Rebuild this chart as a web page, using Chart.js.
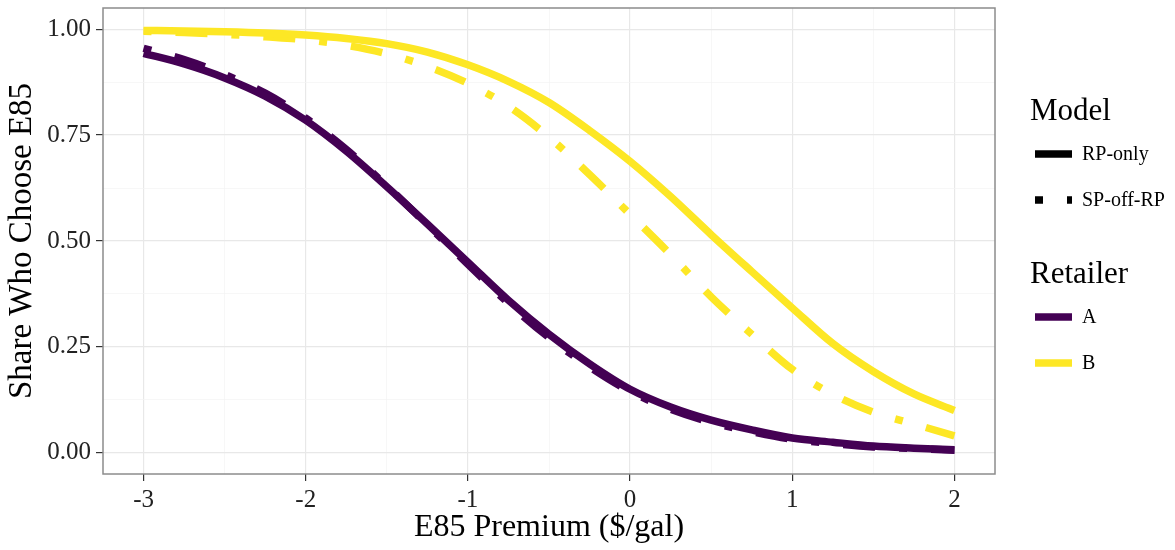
<!DOCTYPE html>
<html>
<head>
<meta charset="utf-8">
<script src="https://cdn.jsdelivr.net/npm/chart.js@4/dist/chart.umd.min.js"></script>
<style>
  html, body { margin: 0; padding: 0; background: #fff; }
  #myChart { display: block; }
</style>
</head>
<body>
<canvas id="myChart" width="1175" height="550" style="width:1175px;height:550px"></canvas>
<script>
// E85 premium ($/gal) and predicted shares
const premium = [-3, -2.75, -2.5, -2.25, -2, -1.75, -1.5, -1.25, -1, -0.75, -0.5, -0.25, 0, 0.25, 0.5, 0.75, 1, 1.25, 1.5, 1.75, 2];
const shareA_rp = [0.943, 0.918, 0.885, 0.842, 0.785, 0.712, 0.628, 0.540, 0.450, 0.360, 0.280, 0.210, 0.150, 0.108, 0.077, 0.054, 0.035, 0.025, 0.016, 0.011, 0.007];
const shareA_sp = [0.955, 0.928, 0.893, 0.849, 0.790, 0.716, 0.630, 0.538, 0.445, 0.353, 0.272, 0.203, 0.145, 0.103, 0.072, 0.050, 0.032, 0.022, 0.014, 0.010, 0.006];
const shareB_rp = [0.997, 0.996, 0.994, 0.991, 0.986, 0.978, 0.966, 0.946, 0.916, 0.877, 0.827, 0.761, 0.688, 0.605, 0.515, 0.428, 0.342, 0.258, 0.192, 0.139, 0.100];
const shareB_sp = [0.995, 0.992, 0.988, 0.982, 0.975, 0.962, 0.942, 0.912, 0.872, 0.818, 0.745, 0.657, 0.563, 0.468, 0.368, 0.280, 0.197, 0.138, 0.096, 0.068, 0.040];

const xTicks = [-3, -2.5, -2, -1.5, -1, -0.5, 0, 0.5, 1, 1.5, 2];
const xTickLabels = ['-3', '-2', '-1', '0', '1', '2'];
const yTicks = [0, 0.125, 0.25, 0.375, 0.5, 0.625, 0.75, 0.875, 1];
const yTickLabels = ['0.00', '0.25', '0.50', '0.75', '1.00'];

const modelNames = ['RP-only', 'SP-off-RP'];
const retailerNames = ['A', 'B'];

const purple = '#440154';
const yellow = '#FDE725';
const dotdash = [8, 24, 32, 24];
const serif = '"Liberation Serif", "Times New Roman", serif';

function pts(ys) {
  return premium.map((x, i) => ({ x: x, y: ys[i] }));
}

const isMajorX = v => Math.abs(v - Math.round(v)) < 1e-9;
const isMajorY = v => Math.abs(v * 4 - Math.round(v * 4)) < 1e-9;

function lineSet(label, ys, color, dashed) {
  return {
    label: label,
    data: pts(ys),
    borderColor: color,
    backgroundColor: color,
    borderWidth: 7.5,
    borderDash: dashed ? dotdash : [],
    borderCapStyle: 'butt',
    pointRadius: 0,
    cubicInterpolationMode: 'monotone',
    fill: false
  };
}

const panelBorder = {
  id: 'panelBorder',
  afterDatasetsDraw(chart) {
    const a = chart.chartArea;
    const ctx = chart.ctx;
    ctx.save();
    ctx.strokeStyle = '#8c8c8c';
    ctx.lineWidth = 1.5;
    ctx.strokeRect(a.left, a.top, a.right - a.left, a.bottom - a.top);
    ctx.restore();
  }
};

// two titled legend groups like ggplot's
const twoLegends = {
  id: 'twoLegends',
  afterDraw(chart) {
    const ctx = chart.ctx;
    ctx.save();
    ctx.fillStyle = '#000';
    ctx.textAlign = 'left';
    ctx.textBaseline = 'alphabetic';
    ctx.font = '31px ' + serif;
    ctx.fillText('Model', 1030, 120);
    ctx.fillText('Retailer', 1030, 283);

    const keys = [
      { y: 154, color: '#000', dash: [], text: modelNames[0] },
      { y: 200, color: '#000', dash: dotdash, text: modelNames[1] },
      { y: 317, color: purple, dash: [], text: retailerNames[0] },
      { y: 363, color: yellow, dash: [], text: retailerNames[1] }
    ];
    ctx.font = '20px ' + serif;
    ctx.textBaseline = 'middle';
    keys.forEach(k => {
      ctx.beginPath();
      ctx.setLineDash(k.dash);
      ctx.lineCap = 'butt';
      ctx.lineWidth = 7.5;
      ctx.strokeStyle = k.color;
      ctx.moveTo(1035, k.y);
      ctx.lineTo(1072, k.y);
      ctx.stroke();
      ctx.setLineDash([]);
      ctx.fillStyle = '#000';
      ctx.fillText(k.text, 1082, k.y + 1);
    });
    ctx.restore();
  }
};

const ctx = document.getElementById('myChart').getContext('2d');
const myChart = new Chart(ctx, {
  type: 'line',
  data: {
    datasets: [
      lineSet('A RP-only', shareA_rp, purple, false),
      lineSet('A SP-off-RP', shareA_sp, purple, true),
      lineSet('B RP-only', shareB_rp, yellow, false),
      lineSet('B SP-off-RP', shareB_sp, yellow, true)
    ]
  },
  options: {
    responsive: false,
    animation: false,
    devicePixelRatio: 1,
    layout: { padding: { left: 0, right: 180, top: 8, bottom: 0 } },
    plugins: {
      legend: { display: false },
      tooltip: { enabled: false }
    },
    scales: {
      x: {
        type: 'linear',
        min: -3.25,
        max: 2.25,
        afterBuildTicks: s => { s.ticks = xTicks.map(v => ({ value: v })); },
        afterFit: s => { s.height = 76; s.paddingLeft = 0; s.paddingRight = 0; },
        border: { display: false },
        grid: {
          color: c => isMajorX(c.tick.value) ? '#e8e8e8' : '#f3f3f3',
          lineWidth: c => isMajorX(c.tick.value) ? 1.2 : 0.7,
          tickColor: c => isMajorX(c.tick.value) ? '#333' : 'rgba(0,0,0,0)',
          tickLength: 7,
          tickWidth: 1.2
        },
        ticks: {
          autoSkip: false,
          maxRotation: 0,
          padding: 4,
          color: '#222',
          font: { family: serif, size: 25 },
          callback: v => isMajorX(v) ? xTickLabels[Math.round(v) + 3] : ''
        },
        title: {
          display: true,
          text: 'E85 Premium ($/gal)',
          color: '#000',
          font: { family: serif, size: 32 },
          padding: { top: 0, bottom: 3 }
        }
      },
      y: {
        min: -0.05,
        max: 1.05,
        afterBuildTicks: s => { s.ticks = yTicks.map(v => ({ value: v })); },
        afterFit: s => { s.width = 103; s.paddingTop = 0; s.paddingBottom = 0; },
        border: { display: false },
        grid: {
          color: c => isMajorY(c.tick.value) ? '#e8e8e8' : '#f3f3f3',
          lineWidth: c => isMajorY(c.tick.value) ? 1.2 : 0.7,
          tickColor: c => isMajorY(c.tick.value) ? '#333' : 'rgba(0,0,0,0)',
          tickLength: 7,
          tickWidth: 1.2
        },
        ticks: {
          autoSkip: false,
          padding: 5,
          color: '#222',
          font: { family: serif, size: 25 },
          callback: v => isMajorY(v) ? yTickLabels[Math.round(v * 4)] : ''
        },
        title: {
          display: true,
          text: 'Share Who Choose E85',
          color: '#000',
          font: { family: serif, size: 33 },
          padding: { top: 3, bottom: 0 }
        }
      }
    }
  },
  plugins: [panelBorder, twoLegends]
});
</script>
</body>
</html>
